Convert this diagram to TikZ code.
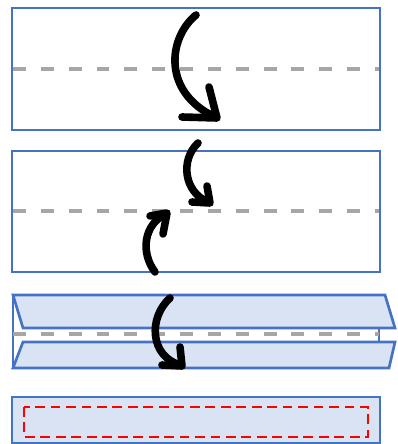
\documentclass[tikz,border=0pt]{standalone}
\usepackage{tikz}
\definecolor{paneblue}{HTML}{4472C4}
\definecolor{panefill}{HTML}{DAE3F3}
\definecolor{foldgray}{HTML}{A9A5A5}
\tikzset{
    panel/.style = {draw = paneblue, line width = 1.9pt},
    strip/.style = {panel, fill = panefill, line join = miter},
    foldline/.style = {draw = foldgray, line width = 2.8pt,
        dash pattern = on 9.2pt off 10.6pt},
    cutline/.style = {draw = red, line width = 1.6pt,
        dash pattern = on 7pt off 4pt},
    foldarrow/.style = {draw = black, line width = 5.4pt,
        line cap = round, line join = round}
}

\begin{document}
\begin{tikzpicture}[x = 0.025cm, y = -0.025cm]

    \useasboundingbox (0,0) rectangle (398,444);

    % open sheet, one fold
    \draw[panel] (12,8) rectangle (380,130);
    \draw[foldline] (13,69) -- (379,69);
    \draw[foldarrow] (196,15) .. controls (168,38) and (162,92) .. (215,117);
    \draw[foldarrow] (209,87) -- (217,118) -- (182,117);

    % both halves to the middle
    \draw[panel] (12,151) rectangle (380,272);
    \draw[foldline] (13,211) -- (379,211);
    \draw[foldarrow] (198,143) .. controls (180,160) and (184,192) .. (208,202);
    \draw[foldarrow] (207,186) -- (210,203) -- (192,202);
    \draw[foldarrow] (155,272) .. controls (140,252) and (144,224) .. (166,214);
    \draw[foldarrow] (163,234) -- (167,213) -- (150,216);

    % folded, closing
    \draw[strip] (23,342) -- (395,342) -- (389,368) -- (13,368) -- cycle;
    \draw[strip] (13,295) -- (385,295) -- (395,328) -- (23,328) -- cycle;
    \draw[panel] (13,295) -- (13,368);
    \draw[panel] (379,328) -- (379,342);
    \draw[foldline] (13,334) -- (379,334);
    \draw[foldarrow] (170,298) .. controls (148,318) and (150,356) .. (180,365);
    \draw[foldarrow] (180,347) -- (182,366) -- (162,365);

    % finished strip
    \draw[strip] (12,397) rectangle (380,443);
    \draw[cutline] (24,407) rectangle (368,437);

\end{tikzpicture}
\end{document}
